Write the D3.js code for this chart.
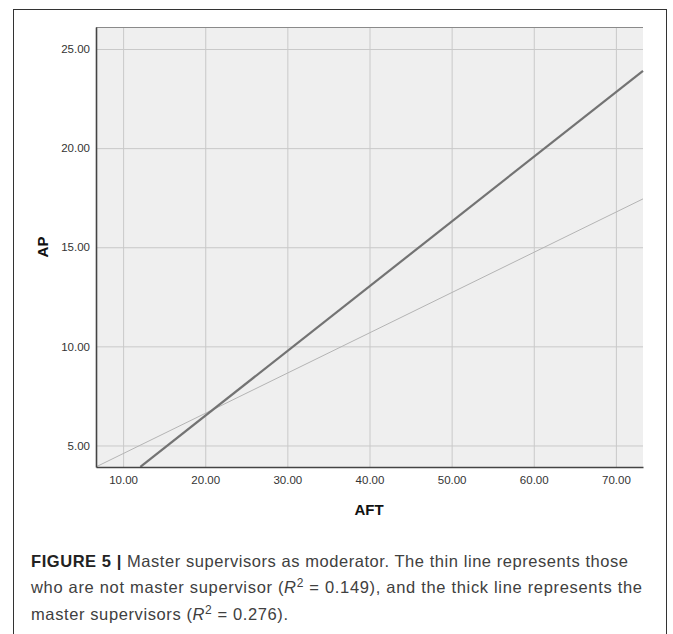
<!DOCTYPE html>
<html>
<head>
<meta charset="utf-8">
<script src="https://cdn.jsdelivr.net/npm/d3@7"></script>
<style>
  body { margin: 0; background: #fff; }
  svg { display: block; }
  .tick text { font-family: "Liberation Sans", Arial, sans-serif; font-size: 11.5px; fill: #333; }
  .axisLabel { font-family: "Liberation Sans", Arial, sans-serif; font-size: 15px; font-weight: bold; fill: #111; }
  .caption { font-family: "Liberation Sans", Arial, sans-serif; font-size: 16.5px; fill: #404040; }
</style>
</head>
<body>
<div class="chart"></div>
<script>
// tick values
var xTicks = [10, 20, 30, 40, 50, 60, 70];
var yTicks = [5, 10, 15, 20, 25];

// fitted lines (AFT -> AP), ends
var thinX = [6.7, 73.3];
var thinY = [3.92, 17.44];
var thickX = [12.1, 73.3];
var thickY = [3.92, 23.9];

var captionLines = [
  [{t: "FIGURE 5 | ", b: true}, {t: "Master supervisors as moderator. The thin line represents those"}],
  [{t: "who are not master supervisor ("}, {t: "R", i: true}, {t: "2", sup: true}, {t: " = 0.149), and the thick line represents the"}],
  [{t: "master supervisors ("}, {t: "R", i: true}, {t: "2", sup: true}, {t: " = 0.276)."}]
];

var baseWidth = 673, baseHeight = 634;
var plot = {left: 96, right: 643, top: 27, bottom: 467};

var svg = d3.select('.chart')
  .append("svg")
  .attr("width", baseWidth)
  .attr("height", baseHeight);

// outer figure frame
svg.append("rect")
  .attr("x", 13.5).attr("y", 9.5)
  .attr("width", 653).attr("height", 640)
  .attr("fill", "none")
  .attr("stroke", "#333")
  .attr("stroke-width", 1);

var xScale = d3.scaleLinear()
  .domain([6.7, 73.3])
  .range([plot.left, plot.right]);

var yScale = d3.scaleLinear()
  .domain([3.915, 26.11])
  .range([plot.bottom, plot.top]);

// plot background
svg.append("rect")
  .attr("x", plot.left).attr("y", plot.top)
  .attr("width", plot.right - plot.left)
  .attr("height", plot.bottom - plot.top)
  .attr("fill", "#efefef");

// grid lines
var xGrid = d3.axisBottom(xScale).tickValues(xTicks)
  .tickSize(-(plot.bottom - plot.top)).tickFormat("");
var yGrid = d3.axisLeft(yScale).tickValues(yTicks)
  .tickSize(-(plot.right - plot.left)).tickFormat("");

svg.append("g")
  .attr("class", "grid")
  .attr("transform", "translate(0," + plot.bottom + ")")
  .call(xGrid)
  .call(function(g) { g.select(".domain").remove(); })
  .selectAll("line").attr("stroke", "#c9c9c9");

svg.append("g")
  .attr("class", "grid")
  .attr("transform", "translate(" + plot.left + ",0)")
  .call(yGrid)
  .call(function(g) { g.select(".domain").remove(); })
  .selectAll("line").attr("stroke", "#c9c9c9");

// regression lines
var line = d3.line()
  .x(function(d) { return xScale(d[0]); })
  .y(function(d) { return yScale(d[1]); });

svg.append("path")
  .datum(d3.zip(thinX, thinY))
  .attr("d", line)
  .attr("fill", "none")
  .attr("stroke", "#b4b4b4")
  .attr("stroke-width", 1);

svg.append("path")
  .datum(d3.zip(thickX, thickY))
  .attr("d", line)
  .attr("fill", "none")
  .attr("stroke", "#737373")
  .attr("stroke-width", 2.2);

// frame: top border light, left/bottom axes dark
svg.append("line")
  .attr("x1", plot.left).attr("x2", plot.right)
  .attr("y1", plot.top + 0.5).attr("y2", plot.top + 0.5)
  .attr("stroke", "#8a8a8a");

// axes (labels only, no tick marks)
var xAxis = d3.axisBottom(xScale).tickValues(xTicks)
  .tickSize(0).tickPadding(9).tickFormat(d3.format(".2f"));
var yAxis = d3.axisLeft(yScale).tickValues(yTicks)
  .tickSize(0).tickPadding(6).tickFormat(d3.format(".2f"));

svg.append("g")
  .attr("class", "x axis")
  .attr("transform", "translate(0," + plot.bottom + ")")
  .call(xAxis)
  .call(function(g) { g.select(".domain").attr("stroke", "#444").attr("stroke-width", 1.6); });

svg.append("g")
  .attr("class", "y axis")
  .attr("transform", "translate(" + plot.left + ",0)")
  .call(yAxis)
  .call(function(g) { g.select(".domain").attr("stroke", "#444").attr("stroke-width", 1.6); });

// axis titles
svg.append("text")
  .attr("class", "axisLabel")
  .attr("transform", "translate(48," + 247 + ") rotate(-90)")
  .attr("text-anchor", "middle")
  .text("AP");

svg.append("text")
  .attr("class", "axisLabel")
  .attr("x", 369)
  .attr("y", 515)
  .attr("text-anchor", "middle")
  .text("AFT");

// caption
var capY = [567, 593, 620];
var capW = [597, 611, 257];
captionLines.forEach(function(parts, i) {
  var t = svg.append("text")
    .attr("class", "caption")
    .attr("x", 31)
    .attr("y", capY[i])
    .attr("textLength", capW[i])
    .attr("lengthAdjust", "spacing");
  parts.forEach(function(p, j) {
    var s = t.append("tspan").text(p.t);
    if (p.b) s.attr("font-weight", "bold").attr("fill", "#222");
    if (p.i) s.attr("font-style", "italic");
    if (p.sup) s.attr("font-size", "12px").attr("dy", -6);
    else if (j > 0 && parts[j - 1].sup) s.attr("dy", 6);
  });
});
</script>
</body>
</html>
